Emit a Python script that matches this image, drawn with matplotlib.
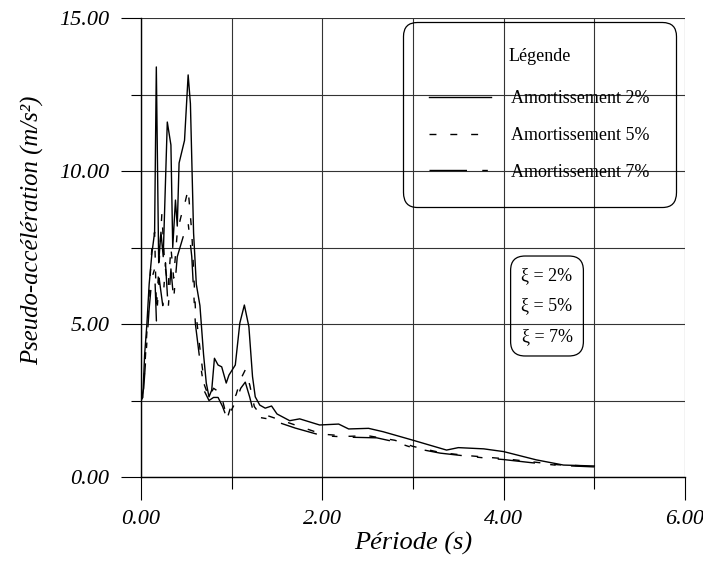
import matplotlib
matplotlib.use("Agg")
import matplotlib.pyplot as plt
from matplotlib.ticker import MultipleLocator, FormatStrFormatter

# ---- data ----
T_2 = [0.00, 0.02, 0.04, 0.065, 0.09, 0.12, 0.15, 0.169, 0.195, 0.22, 0.245, 0.29, 0.33, 0.35,
       0.38, 0.40, 0.42, 0.48, 0.52, 0.545, 0.58, 0.61, 0.65, 0.69, 0.72, 0.75, 0.78, 0.81, 0.85,
       0.89, 0.94, 0.97, 1.04, 1.09, 1.14, 1.19, 1.23, 1.26, 1.31, 1.37, 1.44, 1.50, 1.64, 1.75,
       1.97, 2.18, 2.29, 2.51, 2.67, 2.99, 3.37, 3.50, 3.78, 4.00, 4.36, 4.66, 5.00]
A_2 = [2.5, 2.6, 4.0, 5.0, 6.3, 7.3, 8.0, 13.4, 7.0, 8.0, 7.2, 11.6, 10.85, 7.5,
       9.05, 8.2, 10.26, 11.0, 13.14, 12.2, 7.97, 6.3, 5.6, 4.0, 3.07, 2.62, 2.84, 3.88, 3.66,
       3.6, 3.07, 3.33, 3.66, 5.03, 5.62, 4.91, 3.28, 2.62, 2.35, 2.25, 2.32, 2.06, 1.84, 1.90,
       1.70, 1.73, 1.57, 1.59, 1.48, 1.21, 0.88, 0.96, 0.92, 0.83, 0.56, 0.39, 0.36]

T_5 = [0.00, 0.03, 0.06, 0.09, 0.12, 0.15, 0.17, 0.20, 0.23, 0.26, 0.30, 0.33, 0.36, 0.40,
       0.44, 0.48, 0.52, 0.56, 0.60, 0.65, 0.70, 0.75, 0.80, 0.85, 0.90, 0.95, 1.00, 1.05,
       1.10, 1.15, 1.20, 1.25, 1.30, 1.40, 1.50, 1.70, 2.00, 2.30, 2.50, 2.80, 3.00, 3.30,
       3.60, 4.00, 4.30, 4.60, 5.00]
A_5 = [2.5, 3.0, 4.5, 6.0, 7.5, 8.0, 5.5, 7.0, 8.6, 7.0, 6.2, 7.5, 6.5, 8.0,
       8.5, 8.9, 9.4, 8.0, 5.5, 4.2, 3.0, 2.6, 2.9, 2.8, 2.5, 1.9, 2.4, 2.7,
       3.2, 3.5, 3.0, 2.3, 2.1, 2.0, 1.9, 1.7, 1.4, 1.33, 1.35, 1.2, 1.0, 0.8,
       0.7, 0.6, 0.5, 0.4, 0.35]

T_7 = [0.00, 0.03, 0.06, 0.09, 0.12, 0.15, 0.17, 0.20, 0.24, 0.27, 0.30, 0.33, 0.36, 0.40,
       0.44, 0.48, 0.52, 0.56, 0.60, 0.65, 0.70, 0.75, 0.80, 0.85, 0.90, 0.95, 1.00, 1.05,
       1.10, 1.15, 1.20, 1.25, 1.30, 1.40, 1.50, 1.70, 2.00, 2.30, 2.60, 2.80, 3.00, 3.30,
       3.60, 3.80, 4.00, 4.30, 4.60, 5.00]
A_7 = [2.5, 2.9, 4.2, 5.5, 6.5, 6.8, 5.1, 6.5, 5.6, 7.0, 5.5, 6.8, 5.8, 7.2,
       7.6, 8.0, 8.3, 7.2, 5.0, 3.8, 2.8, 2.5, 2.6, 2.6, 2.3, 1.9, 2.2, 2.5,
       2.9, 3.1, 2.6, 2.0, 1.95, 1.9, 1.8, 1.6, 1.35, 1.3, 1.28, 1.15, 0.95, 0.78,
       0.68, 0.62, 0.57, 0.47, 0.38, 0.33]

labels = ["Amortissement 2%", "Amortissement 5%", "Amortissement 7%"]
xi_labels = ["ξ = 2%", "ξ = 5%", "ξ = 7%"]
legend_title = "Légende"
xlabel = "Période (s)"
ylabel = "Pseudo-accélération (m/s²)"

# ---- figure ----
SERIF = "Liberation Serif"
fig = plt.figure(figsize=(7.03, 5.63), dpi=100)
ax = fig.add_axes([141/703, 1-477/563, 544/703, 459/563])

ax.set_xlim(0, 6)
ax.set_ylim(0, 15)

lw = 1.0
l2, = ax.plot(T_2, A_2, color="black", lw=lw, linestyle="-", label=labels[0])
l5, = ax.plot(T_5, A_5, color="black", lw=lw, linestyle=(0, (5, 10)), label=labels[1])
l7, = ax.plot(T_7, A_7, color="black", lw=lw, linestyle=(0, (27, 11, 4, 11)), label=labels[2])

ax.xaxis.set_major_locator(MultipleLocator(2))
ax.xaxis.set_minor_locator(MultipleLocator(1))
ax.yaxis.set_major_locator(MultipleLocator(5))
ax.yaxis.set_minor_locator(MultipleLocator(2.5))
ax.xaxis.set_major_formatter(FormatStrFormatter("%.2f"))
ax.yaxis.set_major_formatter(FormatStrFormatter("%.2f"))

ax.grid(True, which="both", color="#333333", lw=0.8)
ax.set_axisbelow(True)
for t in ax.yaxis.get_major_ticks():
    if abs(t.get_loc() - 15) < 1e-9:
        t.gridline.set_visible(False)

for s in ["top", "right"]:
    ax.spines[s].set_visible(False)
for s in ["left", "bottom"]:
    ax.spines[s].set_linewidth(1.0)

ax.tick_params(axis="x", which="major", direction="out", length=16.5, width=0.8, pad=7.5)
ax.tick_params(axis="x", which="minor", direction="out", length=8.5, width=0.8)
ax.tick_params(axis="y", which="major", direction="out", length=14.4, width=0.8, pad=8.5)
ax.tick_params(axis="y", which="minor", direction="out", length=7.2, width=0.8)

for lab in ax.get_xticklabels() + ax.get_yticklabels():
    lab.set_fontfamily(SERIF)
    lab.set_fontstyle("italic")
    lab.set_fontsize(16)

ax.set_xlabel(xlabel, fontfamily=SERIF, fontstyle="italic", fontsize=19)
ax.set_ylabel(ylabel, fontfamily=SERIF, fontstyle="italic", fontsize=17.8)
ax.xaxis.set_label_coords(0.5, (477-532)/459)
ax.yaxis.set_label_coords((44-141)/544, (477-230)/459)

leg = ax.legend(handles=[l2, l5, l7], title=legend_title,
                loc="upper right", bbox_to_anchor=(676/703, 1-22/563),
                bbox_transform=fig.transFigure, borderaxespad=0,
                prop={"family": SERIF, "size": 13}, title_fontproperties={"family": SERIF, "size": 13},
                frameon=True, fancybox=True, framealpha=1, facecolor="none", edgecolor="black",
                handlelength=3.4, handletextpad=1.15, labelspacing=1.09, borderpad=1.45)
leg.get_frame().set_boxstyle("round", pad=0, rounding_size=0.8)
leg.get_frame().set_linewidth(0.9)
leg._legend_box.sep = 18

ax.text(547/703, 1-306/563, "\n".join(xi_labels), transform=fig.transFigure,
        ha="center", va="center", fontfamily=SERIF, fontsize=13, linespacing=2.05,
        bbox=dict(boxstyle="round,pad=0.6,rounding_size=0.8", facecolor="none",
                  edgecolor="black", linewidth=0.9))

fig.savefig("out.png", dpi=100)
